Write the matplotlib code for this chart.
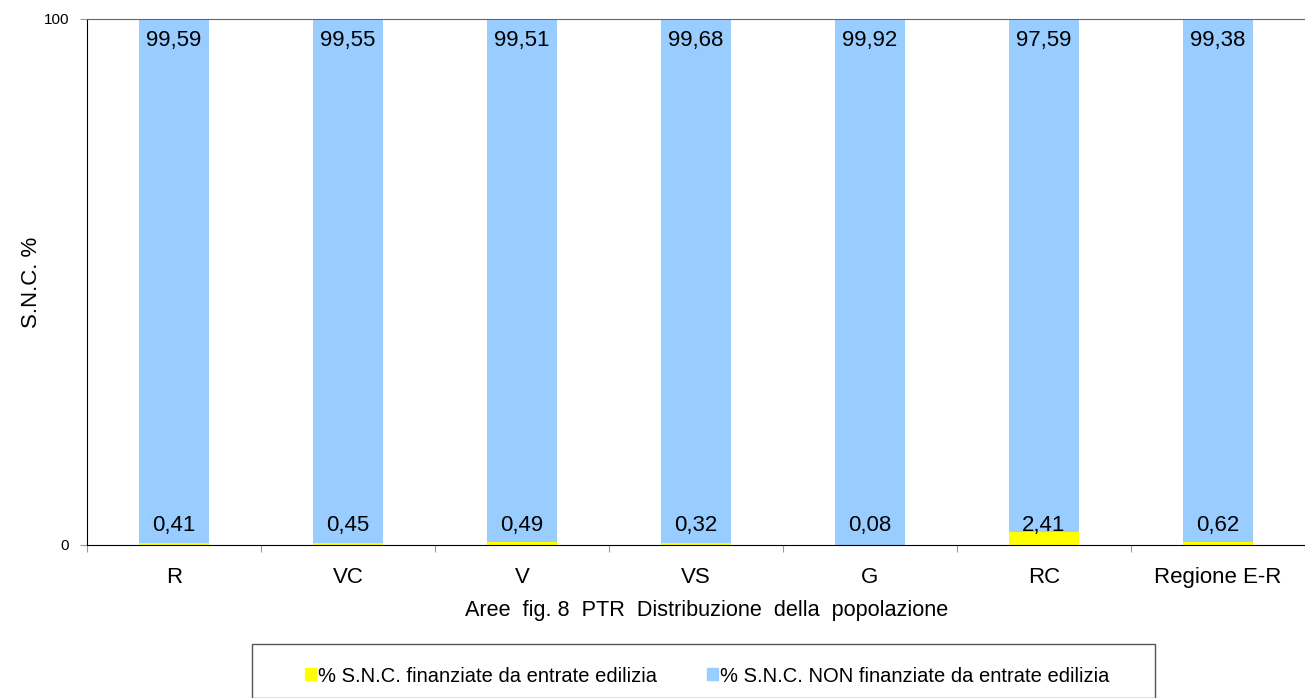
import matplotlib.pyplot as plt
import matplotlib.patches as mpatches
import numpy as np

plt.rcParams['font.family'] = ['Liberation Sans', 'DejaVu Sans']

areas = ["R", "VC", "V", "VS", "G", "RC", "Regione E-R"]
finanziate = [0.41, 0.45, 0.49, 0.32, 0.08, 2.41, 0.62]
non_finanziate = [99.59, 99.55, 99.51, 99.68, 99.92, 97.59, 99.38]

YELLOW = "#FFFF00"
BLUE = "#99CCFF"

fig = plt.figure(figsize=(13.05, 6.98), dpi=100)
ax = fig.add_axes([87 / 1305, 1 - 545 / 698, 1 - 87 / 1305, (545 - 19) / 698])

x = np.arange(len(areas))
w = 0.4
ax.bar(x, finanziate, w, color=YELLOW, linewidth=0)
ax.bar(x, non_finanziate, w, bottom=finanziate, color=BLUE, linewidth=0)

# value labels: lower series near the base, upper series near the top
for i in x:
    ax.text(i, 3.8, f"{finanziate[i]:.2f}".replace(".", ","), ha="center", va="center", fontsize=16)
    ax.text(i, 96.0, f"{non_finanziate[i]:.2f}".replace(".", ","), ha="center", va="center", fontsize=16)

ax.set_xlim(-0.5, len(areas) - 0.5)
ax.set_ylim(0, 100)
ax.set_yticks([0, 100])
ax.set_yticklabels(["0", "100"], fontsize=11)
ax.tick_params(axis="y", length=5, color="#999999", pad=8)

# ticks between categories, labels at the centres
ax.set_xticks(np.arange(len(areas) + 1) - 0.5)
ax.set_xticklabels([])
ax.set_xticks(x, minor=True)
ax.set_xticklabels(areas, minor=True, fontsize=16)
ax.tick_params(axis="x", which="major", length=5, color="#999999", direction="out")
ax.tick_params(axis="x", which="minor", length=0, pad=16)

ax.spines["right"].set_visible(False)
ax.spines["top"].set_color("#666666")
ax.spines["left"].set_color("black")
ax.spines["bottom"].set_color("black")

ax.set_ylabel("S.N.C. %", fontsize=16)
ax.yaxis.set_label_coords(-(87 - 42) / 1218, 0.5)
ax.set_xlabel("Aree  fig. 8  PTR  Distribuzione  della  popolazione", fontsize=15.6)
ax.xaxis.set_label_coords((707 - 87) / 1218, -(600 - 545) / 526)

# legend box running off the bottom edge
box = mpatches.Rectangle((252 / 1305, 0.0), (1155 - 252) / 1305, (698 - 651) / 698 + 0.01,
                         transform=fig.transFigure, fill=False, edgecolor="#555555", linewidth=1)
fig.patches.append(box)
handles = [mpatches.Patch(color=YELLOW, label="% S.N.C. finanziate da entrate edilizia"),
           mpatches.Patch(color=BLUE, label="% S.N.C. NON finanziate da entrate edilizia")]
fig.legend(handles=handles, loc="center", bbox_to_anchor=(707 / 1305, 1 - 676 / 698), ncol=2,
           frameon=False, fontsize=14.5, handlelength=0.55, handleheight=0.55, handletextpad=0.1,
           columnspacing=2.5)

fig.savefig("out.png", dpi=100)
